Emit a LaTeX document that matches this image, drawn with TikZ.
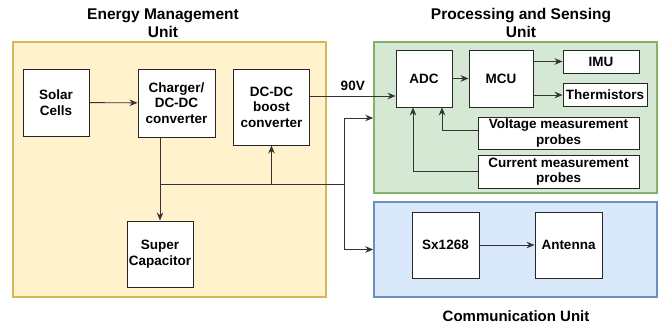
\documentclass[tikz,border=0pt]{standalone}
\usepackage{fontspec}
\setmainfont{Liberation Sans}
\usetikzlibrary{arrows.meta}

\definecolor{emuFill}{HTML}{FFF2CC}
\definecolor{emuLine}{HTML}{D6B656}
\definecolor{psuFill}{HTML}{D5E8D4}
\definecolor{psuLine}{HTML}{82B366}
\definecolor{comFill}{HTML}{DAE8FC}
\definecolor{comLine}{HTML}{6C8EBF}

\tikzset{
  unit/.style={draw, line width=1.6pt, inner sep=0pt},
  block/.style={draw=black!85, fill=white, line width=0.9pt, align=center,
    inner sep=1pt, font=\fontsize{13.5}{15.5}\selectfont\bfseries},
  title/.style={align=center, font=\fontsize{15.5}{18.5}\selectfont\bfseries},
  wire/.style={draw=black!80, line width=0.9pt},
}

\begin{document}
\begin{tikzpicture}[x=1pt, y=-1pt, >={Stealth[length=8pt,width=6.5pt]}]
  \useasboundingbox (0,0) rectangle (658,328);

  % the three units
  \node[unit, draw=emuLine, fill=emuFill, minimum width=313pt, minimum height=255pt] (emu) at (169.5,169.5) {};
  \node[unit, draw=psuLine, fill=psuFill, minimum width=283pt, minimum height=151pt] (psu) at (515.5,117.5) {};
  \node[unit, draw=comLine, fill=comFill, minimum width=283pt, minimum height=95pt] (com) at (515.5,249.5) {};
  \node[title] (emutitle) at (163,23) {Energy Management\\Unit};
  \node[title] (psutitle) at (521,23) {Processing and Sensing\\Unit};
  \node[title, font=\fontsize{15}{18}\selectfont\bfseries] (comtitle) at (516,316) {Communication Unit};

  % energy management
  \node[block, minimum width=66pt, minimum height=67pt] (solar) at (56,102.5) {Solar\\Cells};
  \node[block, minimum width=77pt, minimum height=68pt] (charger) at (176.5,103) {Charger/\\DC-DC\\converter};
  \node[block, minimum width=76pt, minimum height=76pt] (boost) at (271.5,107) {DC-DC\\boost\\converter};
  \node[block, minimum width=66pt, minimum height=66pt] (cap) at (160,254) {Super\\Capacitor};

  % processing and sensing
  \node[block, minimum width=56pt, minimum height=57pt] (adc) at (424,78.5) {ADC};
  \node[block, minimum width=64pt, minimum height=57pt] (mcu) at (501,78.5) {MCU};
  \node[block, minimum width=76pt, minimum height=23pt] (imu) at (601,61.5) {IMU};
  \node[block, minimum width=84pt, minimum height=23pt] (therm) at (605,95) {Thermistors};
  \node[block, minimum width=161pt, minimum height=32pt] (volt) at (558.5,133) {Voltage measurement\\probes};
  \node[block, minimum width=161pt, minimum height=33pt] (curr) at (558.5,171.5) {Current measurement\\probes};

  % communication
  \node[block, minimum width=67pt, minimum height=66pt] (sx) at (445.5,245) {Sx1268};
  \node[block, minimum width=67pt, minimum height=66pt] (ant) at (568.5,245) {Antenna};

  % power paths
  \coordinate (bus) at (160,184);
  \coordinate (split) at (344,184);
  \draw[wire, ->] (solar) -- (charger);
  \draw[wire, ->] (charger.south -| cap.north) -- (cap.north);
  \draw[wire] (bus) -- (split);
  \draw[wire, ->] (boost.south |- bus) -- (boost.south);
  \draw[wire, ->] (split) |- ([yshift=-0.5pt]psu.west);
  \draw[wire, ->] (split) |- (com.west);
  \draw[wire, ->] (boost.east) ++(0,-11) coordinate (hv) -- (hv -| adc.west)
    node[midway, above=2pt, font=\fontsize{13.5}{15.5}\selectfont\bfseries] {90V};

  % signals
  \draw[wire, ->] (adc) -- (mcu);
  \draw[wire, ->] (mcu.east |- imu.west) -- (imu.west);
  \draw[wire, ->] (mcu.east |- therm.west) -- (therm.west);
  \draw[wire, ->] ([yshift=3pt]volt.west) -| ([xshift=18pt]adc.south);
  \draw[wire, ->] (curr.west) -| ([xshift=-11pt]adc.south);
  \draw[wire, ->] (sx) -- (ant);
\end{tikzpicture}
\end{document}
